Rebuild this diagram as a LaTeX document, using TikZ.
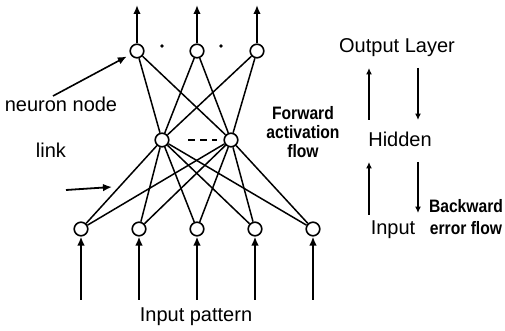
\documentclass[tikz,border=0pt]{standalone}
\usepackage{fontspec}
\setmainfont{Liberation Sans}
\newfontfamily\flowfont{Liberation Sans}[FakeStretch=0.87]
\usetikzlibrary{arrows.meta}

\tikzset{node distance=29pt}
\tikzset{
  neuron/.style={circle,draw,line width=0.8pt,inner sep=0pt,minimum size=6.8pt},
  link/.style={line width=0.75pt},
  flowarrow/.style={line width=1pt,-{Latex[length=4.5pt,width=3.8pt]}},
  smallarrow/.style={line width=0.8pt,-{Latex[length=3.2pt,width=3pt]}},
  flowtext/.style={font=\flowfont\bfseries\fontsize{9}{9.5}\selectfont,align=center,inner sep=0pt},
  label/.style={font=\fontsize{10}{12}\selectfont,inner sep=0pt}
}

\begin{document}
\begin{tikzpicture}[x=0.5pt,y=-0.5pt]
      \useasboundingbox (0,0) rectangle (505,331);
      % output row
      \node [neuron] (o2) at (197,51) {};
      \node [neuron,left of=o2,node distance=30pt] (o1) {};
      \node [neuron,right of=o2,node distance=30pt] (o3) {};
      \node [circle,fill,inner sep=0pt,minimum size=1.8pt] (dotA) at (162,46) {};
      \node [circle,fill,inner sep=0pt,minimum size=1.8pt] (dotB) at (221,46) {};
      % hidden row
      \node [neuron] (h1) at (162,140) {};
      \node [neuron,right of=h1,node distance=34.5pt] (h2) {};
      % input row
      \node [neuron] (i3) at (197,229) {};
      \node [neuron,left of=i3] (i2) {};
      \node [neuron,left of=i2] (i1) {};
      \node [neuron,right of=i3] (i4) {};
      \node [neuron,right of=i4] (i5) {};

      % free ends of the arrows
      \coordinate (o1top) at (137,5);
      \coordinate (o2top) at (197,5);
      \coordinate (o3top) at (257,5);
      \coordinate (i1bot) at (81,300);
      \coordinate (i2bot) at (139,300);
      \coordinate (i3bot) at (197,300);
      \coordinate (i4bot) at (255,300);
      \coordinate (i5bot) at (313,300);

      % links
      \draw [link] (o1) -- (h1);
      \draw [link] (o1) -- (h2);
      \draw [link] (o2) -- (h1);
      \draw [link] (o2) -- (h2);
      \draw [link] (o3) -- (h1);
      \draw [link] (o3) -- (h2);
      \draw [link] (h1) -- (i1);
      \draw [link] (h1) -- (i2);
      \draw [link] (h1) -- (i3);
      \draw [link] (h1) -- (i4);
      \draw [link] (h1) -- (i5);
      \draw [link] (h2) -- (i1);
      \draw [link] (h2) -- (i2);
      \draw [link] (h2) -- (i3);
      \draw [link] (h2) -- (i4);
      \draw [link] (h2) -- (i5);
      \draw [line width=0.9pt,dash pattern=on 3.5pt off 2.5pt,shorten <=9.25pt,shorten >=3.25pt,yshift=-1.5pt] (h1) -- (h2);

      % outputs and inputs
      \draw [flowarrow] (o1) -- (o1top);
      \draw [flowarrow] (o2) -- (o2top);
      \draw [flowarrow] (o3) -- (o3top);
      \draw [flowarrow] (i1bot) -- (i1);
      \draw [flowarrow] (i2bot) -- (i2);
      \draw [flowarrow] (i3bot) -- (i3);
      \draw [flowarrow] (i4bot) -- (i4);
      \draw [flowarrow] (i5bot) -- (i5);
      \node [label,anchor=base] (pattern) at (196,322) {Input pattern};

      % left labels
      \node [label] (neuronlbl) at (61,104) {neuron node};
      \node [label] (linklbl) at (51,150) {link};
      \coordinate (nntail) at (53,96);
      \coordinate (linktail) at (66,190);
      \coordinate (linkhead) at (112,187);
      \draw [flowarrow,line width=0.8pt,shorten >=2pt] (nntail) -- (o1);
      \draw [flowarrow,line width=0.9pt] (linktail) -- (linkhead);

      % flow legend
      \node [flowtext] (fwd) at (303,132) {Forward\\activation\\flow};
      \node [label,anchor=base] (outlbl) at (397,53) {Output Layer};
      \node [label,anchor=base] (hidlbl) at (400,147) {Hidden};
      \node [label,anchor=base] (inlbl) at (393,235) {Input};
      \node [flowtext,anchor=base] (bwdA) at (466,213) {Backward};
      \node [flowtext,anchor=base] (bwdB) at (466,235) {error flow};
      \coordinate (ohUp) at (369,120);
      \coordinate (ohUpEnd) at (369,68);
      \coordinate (ohDown) at (418,68);
      \coordinate (ohDownEnd) at (418,120);
      \coordinate (hiUp) at (369,215);
      \coordinate (hiUpEnd) at (369,162);
      \coordinate (hiDown) at (418,162);
      \coordinate (hiDownEnd) at (418,213);
      \draw [smallarrow] (ohUp) -- (ohUpEnd);
      \draw [smallarrow] (ohDown) -- (ohDownEnd);
      \draw [smallarrow] (hiUp) -- (hiUpEnd);
      \draw [smallarrow] (hiDown) -- (hiDownEnd);
\end{tikzpicture}
\end{document}
